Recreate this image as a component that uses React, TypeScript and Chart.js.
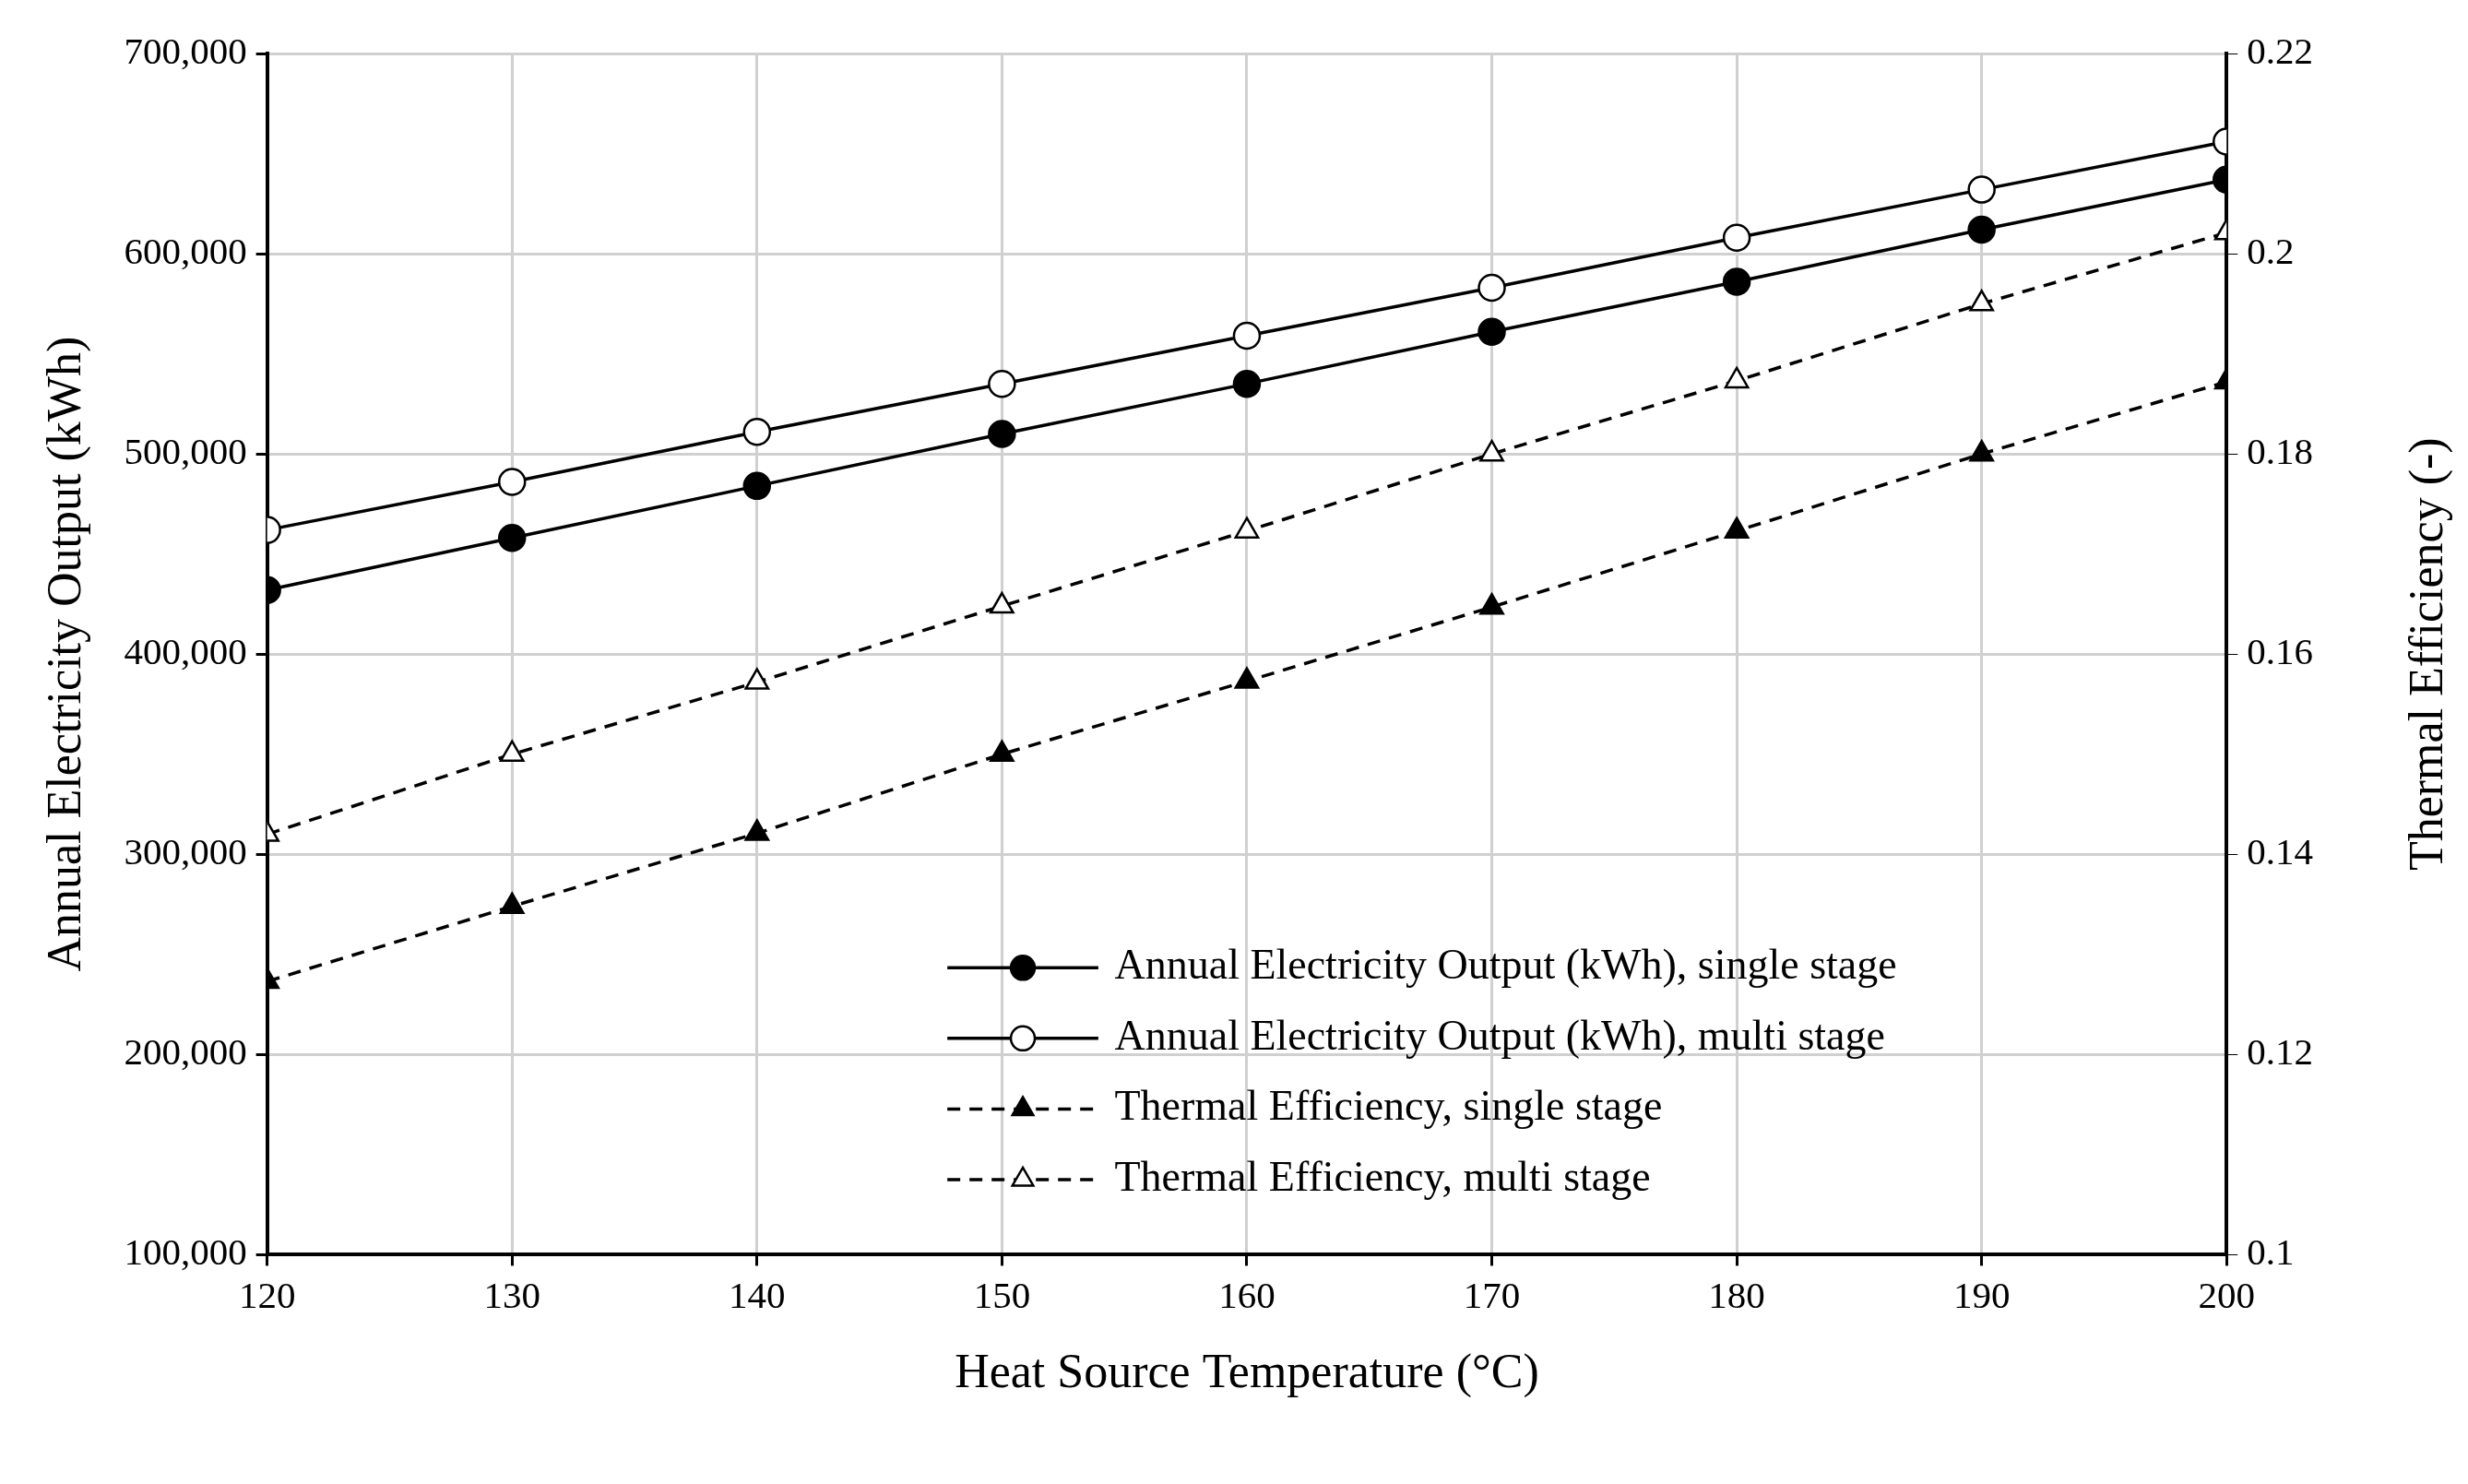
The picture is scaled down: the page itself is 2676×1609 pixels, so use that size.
import React, { useEffect, useRef } from "react";
import { Chart, registerables } from "chart.js";
Chart.register(...registerables);

const temps = [120, 130, 140, 150, 160, 170, 180, 190, 200];
const outSingle = [432000, 458000, 484000, 510000, 535000, 561000, 586000, 612000, 637000];
const outMulti = [462000, 486000, 511000, 535000, 559000, 583000, 608000, 632000, 656000];
const effSingle = [0.1273, 0.1348, 0.1421, 0.150, 0.1573, 0.1647, 0.1723, 0.180, 0.1872];
const effMulti = [0.142, 0.150, 0.1572, 0.1648, 0.1723, 0.180, 0.1873, 0.195, 0.2021];
const labels = [
  "Annual Electricity Output (kWh), single stage",
  "Annual Electricity Output (kWh), multi stage",
  "Thermal Efficiency, single stage",
  "Thermal Efficiency, multi stage",
];
const rightTitle = "Thermal Efficiency (-)";

const FONT = "'Liberation Serif', 'Times New Roman', serif";

const legendPlugin = {
  id: "inLegend",
  afterDraw(chart: any) {
    const { ctx, chartArea: a } = chart;
    const w = a.right - a.left, h = a.bottom - a.top;
    const x0 = a.left + w * (419 / 1207), x1 = a.left + w * (512 / 1207), tx = a.left + w * (522 / 1207);
    const ys = [628, 674, 720, 766].map((y) => a.top + h * ((y - 32) / 783));
    ctx.save();
    chart.data.datasets.forEach((ds: any, i: number) => {
      const y = ys[i];
      ctx.strokeStyle = "#000";
      ctx.lineWidth = 3.5;
      ctx.setLineDash(ds.borderDash || []);
      ctx.beginPath(); ctx.moveTo(x0, y); ctx.lineTo(x1, y); ctx.stroke();
      ctx.setLineDash([]);
      const cx = (x0 + x1) / 2, r = 13;
      ctx.fillStyle = ds.pointBackgroundColor;
      ctx.lineWidth = 2.5;
      ctx.beginPath();
      if (ds.pointStyle === "triangle") {
        ctx.moveTo(cx, y - r); ctx.lineTo(cx + r * 0.87, y + r * 0.5); ctx.lineTo(cx - r * 0.87, y + r * 0.5); ctx.closePath();
      } else ctx.arc(cx, y, r, 0, Math.PI * 2);
      ctx.fill(); ctx.stroke();
      ctx.fillStyle = "#000";
      ctx.font = `46px ${FONT}`;
      ctx.textBaseline = "middle";
      ctx.fillText(labels[i], tx, y);
    });
    // right axis title, reading bottom-to-top
    ctx.translate(a.right + 220, (a.top + a.bottom) / 2);
    ctx.rotate(-Math.PI / 2);
    ctx.font = `52px ${FONT}`;
    ctx.textAlign = "center";
    ctx.textBaseline = "middle";
    ctx.fillStyle = "#000";
    ctx.fillText(rightTitle, 0, 0);
    ctx.restore();
  },
};

export default function App() {
  const ref = useRef<HTMLCanvasElement>(null);
  useEffect(() => {
    const mk = (d: number[], axis: string, fill: string, tri: boolean, dash: number[]) => ({
      data: temps.map((t, i) => ({ x: t, y: d[i] })),
      yAxisID: axis,
      borderColor: "#000",
      borderWidth: 3.5,
      borderDash: dash,
      pointStyle: tri ? "triangle" : "circle",
      pointRadius: 14,
      pointBackgroundColor: fill,
      pointBorderColor: "#000",
      pointBorderWidth: 2.5,
    });
    const grid = { color: "#d0d0d0", lineWidth: 3, tickLength: 12, tickColor: "#000" };
    const border = { color: "#000", width: 4, dash: [] as number[] };
    const tickFont = { family: FONT, size: 41 };
    const titleFont = { family: FONT, size: 52 };
    const chart = new Chart(ref.current!, {
      type: "line",
      data: {
        datasets: [
          mk(outSingle, "y", "#000", false, []),
          mk(outMulti, "y", "#fff", false, []),
          mk(effSingle, "y1", "#000", true, [14, 10]),
          mk(effMulti, "y1", "#fff", true, [14, 10]),
        ] as any,
      },
      options: {
        animation: false,
        responsive: false,
        devicePixelRatio: 1,
        layout: { padding: { top: 50, right: 150, left: 30, bottom: 75 } },
        plugins: { legend: { display: false }, tooltip: { enabled: false } },
        scales: {
          x: {
            type: "linear", min: 120, max: 200,
            ticks: { stepSize: 10, color: "#000", font: tickFont, padding: 10 },
            grid: grid as any,
            border: border as any,
            title: { display: true, text: "Heat Source Temperature (°C)", color: "#000", font: titleFont, padding: { top: 18 } },
          },
          y: {
            min: 100000, max: 700000,
            ticks: { stepSize: 100000, color: "#000", font: tickFont, padding: 10,
              callback: (v: any) => Number(v).toLocaleString("en-US") },
            grid: grid as any,
            border: border as any,
            title: { display: true, text: "Annual Electricity Output (kWh)", color: "#000", font: titleFont, padding: { bottom: 20 } },
          },
          y1: {
            position: "right", min: 0.1, max: 0.22,
            ticks: { stepSize: 0.02, color: "#000", font: tickFont, padding: 10,
              callback: (v: any) => String(Number(Number(v).toFixed(2))) },
            grid: { drawOnChartArea: false, tickLength: 12, tickColor: "#000" },
            border: border as any,
          },
        } as any,
      },
      plugins: [legendPlugin],
    });
    return () => chart.destroy();
  }, []);
  return <canvas ref={ref} width={2660} height={1593} style={{ display: "block", background: "#fff" }} />;
}
